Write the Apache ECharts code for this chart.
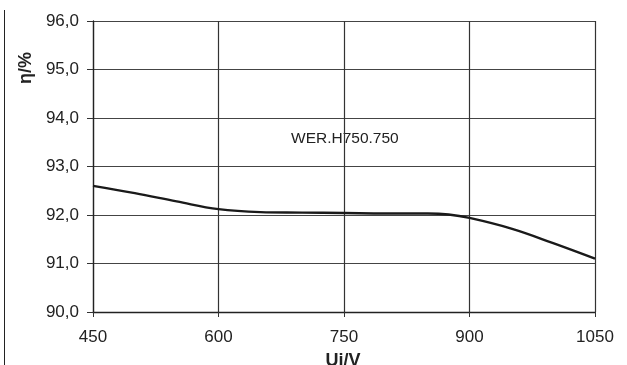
<!DOCTYPE html>
<html><head><meta charset="utf-8">
<script src="https://cdn.jsdelivr.net/npm/echarts@6/dist/echarts.min.js"></script>
<style>html,body{margin:0;padding:0;background:#fff}#c{width:627px;height:365px}</style>
</head><body><div id="c"></div>
<script>
const voltages = [450, 500, 550, 600, 650, 700, 750, 800, 850, 875, 900, 950, 1000, 1050];
const efficiency = [92.6, 92.45, 92.28, 92.12, 92.06, 92.05, 92.04, 92.03, 92.03, 92.01, 91.94, 91.72, 91.42, 91.1];
const seriesName = 'WER.H750.750';
const xTicks = [450, 600, 750, 900, 1050];
const yTicks = [90, 91, 92, 93, 94, 95, 96];
const xName = 'Ui/V';
const yName = 'η/%';

const chart = echarts.init(document.getElementById('c'), null, {renderer: 'canvas'});
const font = 'Liberation Sans, Arial, sans-serif';
chart.setOption({
  animation: false,
  backgroundColor: '#fff',
  grid: {left: 93, right: 32, top: 21, bottom: 53, containLabel: false},
  xAxis: {
    type: 'value', min: xTicks[0], max: xTicks[xTicks.length - 1], interval: 150,
    axisLine: {show: true, lineStyle: {color: '#222', width: 1.3}},
    axisTick: {show: true, length: 5, lineStyle: {color: '#333'}},
    axisLabel: {fontFamily: font, fontSize: 17, color: '#222', margin: 17, formatter: v => String(v)},
    splitLine: {show: true, lineStyle: {color: '#333', width: 1.2}}
  },
  yAxis: {
    type: 'value', min: yTicks[0], max: yTicks[yTicks.length - 1], interval: 1,
    axisLine: {show: true, lineStyle: {color: '#222', width: 1.3}},
    axisTick: {show: true, length: 6, lineStyle: {color: '#333'}},
    axisLabel: {fontFamily: font, fontSize: 17, color: '#222', margin: 14,
      formatter: v => v.toFixed(1).replace('.', ',')},
    splitLine: {show: true, lineStyle: {color: '#444', width: 1.2}}
  },
  series: [{
    name: seriesName, type: 'line', smooth: 0.4, showSymbol: false,
    data: voltages.map((v, i) => [v, efficiency[i]]),
    lineStyle: {color: '#1a1a1a', width: 2.4}
  }],
  graphic: [
    {type: 'line', shape: {x1: 4.5, y1: 10, x2: 4.5, y2: 365}, style: {stroke: '#222', lineWidth: 1}},
    {type: 'text', left: 291, top: 131, style: {text: seriesName, font: '15.5px ' + font, fill: '#222'}},
    {type: 'text', x: 26, y: 68, rotation: Math.PI / 2,
      style: {text: yName, font: 'bold 18px ' + font, fill: '#222', align: 'center', verticalAlign: 'middle'}},
    {type: 'text', x: 343, y: 352, style: {text: xName, font: 'bold 18px ' + font, fill: '#222', align: 'center', verticalAlign: 'top'}}
  ]
});
</script></body></html>
